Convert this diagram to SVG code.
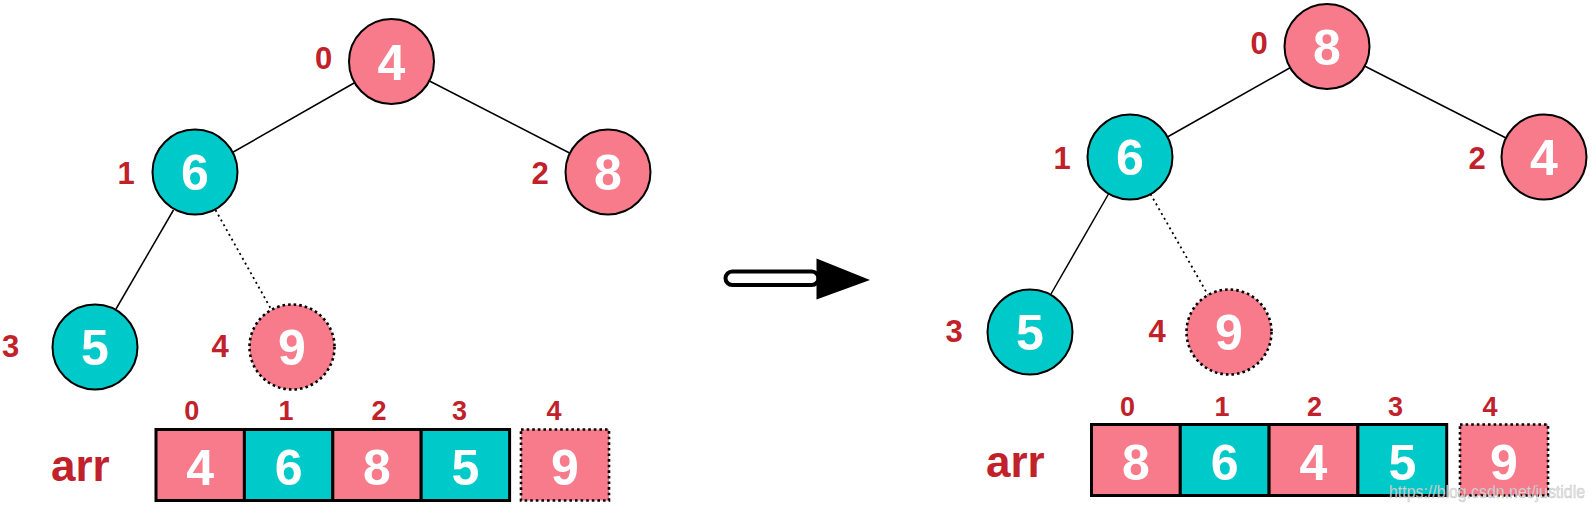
<svg xmlns="http://www.w3.org/2000/svg" width="1595" height="512" viewBox="0 0 1595 512">
<style>
.pink{fill:#F77B8B}
.teal{fill:#00C9C9}
.node{stroke:#000;stroke-width:2}
.dash{stroke:#000;stroke-width:2.6;stroke-dasharray:2.6 3}
.cell{stroke:#000;stroke-width:3}
.val{font-family:"Liberation Sans",Arial,sans-serif;font-weight:bold;font-size:50px;fill:#fff;text-anchor:middle}
.idx{font-family:"Liberation Sans",Arial,sans-serif;font-weight:bold;font-size:31px;fill:#C1212A;text-anchor:middle}
.aidx{font-family:"Liberation Sans",Arial,sans-serif;font-weight:bold;font-size:27px;fill:#C1212A;text-anchor:middle}
.arr{font-family:"Liberation Sans",Arial,sans-serif;font-weight:bold;font-size:44px;fill:#C1212A}
.edge{stroke:#000;stroke-width:1.5;fill:none}
.dot{stroke:#000;stroke-width:1.8;fill:none;stroke-dasharray:2 3.5}
</style>
<rect width="1595" height="512" fill="#fff"/>

<g id="connectors">
  <line class="edge" x1="355" y1="82.5" x2="231.5" y2="153"/>
  <line class="edge" x1="428.5" y1="80.5" x2="570.5" y2="153.5"/>
  <line class="edge" x1="173.5" y1="210" x2="116" y2="309"/>
  <line class="dot" x1="215.5" y1="210" x2="271" y2="309"/>
  <line class="edge" x1="1290.5" y1="67.5" x2="1166.5" y2="137.5"/>
  <line class="edge" x1="1364.5" y1="66" x2="1507" y2="138.5"/>
  <line class="edge" x1="1108.5" y1="194" x2="1051" y2="294"/>
  <line class="dot" x1="1150.5" y1="194" x2="1208" y2="295"/>
</g>

<g id="left-tree">
  <g id="L0"><circle class="node pink" cx="391.5" cy="61.5" r="42.5"/><text class="val" x="391.5" y="79.5">4</text><text class="idx" x="323.5" y="69">0</text></g>
  <g id="L1"><circle class="node teal" cx="195" cy="172" r="42.5"/><text class="val" x="195" y="190">6</text><text class="idx" x="126" y="184">1</text></g>
  <g id="L2"><circle class="node pink" cx="608" cy="172" r="42.5"/><text class="val" x="608" y="190">8</text><text class="idx" x="540" y="184">2</text></g>
  <g id="L3"><circle class="node teal" cx="95" cy="347" r="42.5"/><text class="val" x="95" y="365">5</text><text class="idx" x="10.5" y="357">3</text></g>
  <g id="L4"><circle class="dash pink" cx="292" cy="347" r="42.5"/><text class="val" x="292" y="365">9</text><text class="idx" x="220" y="357">4</text></g>
</g>

<g id="left-array">
  <text class="arr" x="51" y="481">arr</text>
  <rect class="cell pink" x="156" y="429.5" width="88.4" height="71"/>
  <rect class="cell teal" x="244.4" y="429.5" width="88.4" height="71"/>
  <rect class="cell pink" x="332.8" y="429.5" width="88.4" height="71"/>
  <rect class="cell teal" x="421.2" y="429.5" width="88.4" height="71"/>
  <rect class="dash pink" x="521" y="429.5" width="88" height="71"/>
  <text class="val" x="200.2" y="485">4</text>
  <text class="val" x="288.6" y="485">6</text>
  <text class="val" x="377" y="485">8</text>
  <text class="val" x="465.4" y="485">5</text>
  <text class="val" x="565" y="485">9</text>
  <text class="aidx" x="191.7" y="420">0</text>
  <text class="aidx" x="286" y="420">1</text>
  <text class="aidx" x="379" y="420">2</text>
  <text class="aidx" x="459.5" y="420">3</text>
  <text class="aidx" x="554" y="420">4</text>
</g>

<g id="arrow">
  <rect x="725.5" y="271.5" width="93" height="13.5" rx="6.75" fill="#fff" stroke="#000" stroke-width="4"/>
  <polygon points="816.5,258.5 816.5,299.5 870,280" fill="#000"/>
</g>

<g id="right-tree">
  <g id="R0"><circle class="node pink" cx="1327" cy="46.5" r="42.5"/><text class="val" x="1327" y="64.5">8</text><text class="idx" x="1259" y="54">0</text></g>
  <g id="R1"><circle class="node teal" cx="1130" cy="157" r="42.5"/><text class="val" x="1130" y="175">6</text><text class="idx" x="1062" y="169">1</text></g>
  <g id="R2"><circle class="node pink" cx="1544" cy="157" r="42.5"/><text class="val" x="1544" y="175">4</text><text class="idx" x="1477" y="169">2</text></g>
  <g id="R3"><circle class="node teal" cx="1030" cy="332" r="42.5"/><text class="val" x="1030" y="350">5</text><text class="idx" x="954" y="342">3</text></g>
  <g id="R4"><circle class="dash pink" cx="1229" cy="332" r="42.5"/><text class="val" x="1229" y="350">9</text><text class="idx" x="1157" y="342">4</text></g>
</g>

<g id="right-array">
  <text class="arr" x="986" y="477">arr</text>
  <rect class="cell pink" x="1091.5" y="424.5" width="88.8" height="71"/>
  <rect class="cell teal" x="1180.3" y="424.5" width="88.8" height="71"/>
  <rect class="cell pink" x="1269.1" y="424.5" width="88.8" height="71"/>
  <rect class="cell teal" x="1357.9" y="424.5" width="88.8" height="71"/>
  <rect class="dash pink" x="1460" y="424.5" width="88" height="71"/>
  <text class="val" x="1135.9" y="480">8</text>
  <text class="val" x="1224.7" y="480">6</text>
  <text class="val" x="1313.5" y="480">4</text>
  <text class="val" x="1402.3" y="480">5</text>
  <text class="val" x="1504" y="480">9</text>
  <text class="aidx" x="1127.5" y="415.5">0</text>
  <text class="aidx" x="1222" y="415.5">1</text>
  <text class="aidx" x="1314.5" y="415.5">2</text>
  <text class="aidx" x="1395.5" y="415.5">3</text>
  <text class="aidx" x="1490" y="415.5">4</text>
</g>

<text x="1389" y="498" font-family="'Liberation Sans',Arial,sans-serif" font-size="19" textLength="196" lengthAdjust="spacingAndGlyphs" fill="#e6e6e6" fill-opacity="0.85" stroke="#9a9a9a" stroke-opacity="0.5" stroke-width="0.6">https://blog.csdn.net/justidle</text>
</svg>
